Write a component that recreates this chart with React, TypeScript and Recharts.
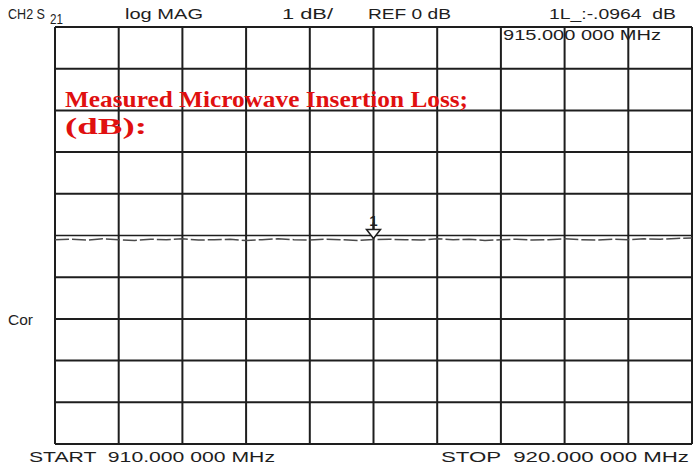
import React from 'react';
import { LineChart, Line, XAxis, YAxis, ReferenceLine, ReferenceDot } from 'recharts';

const freqTicks = [910, 911, 912, 913, 914, 915, 916, 917, 918, 919, 920];
const dbTicks = [-5, -4, -3, -2, -1, 0, 1, 2, 3, 4, 5];

const traceFreqs = [
  910, 910.25, 910.5, 910.75, 911, 911.25, 911.5, 911.75, 912, 912.25,
  912.5, 912.75, 913, 913.25, 913.5, 913.75, 914, 914.25, 914.5, 914.75,
  915, 915.25, 915.5, 915.75, 916, 916.25, 916.5, 916.75, 917, 917.25,
  917.5, 917.75, 918, 918.25, 918.5, 918.75, 919, 919.25, 919.5, 919.75, 920,
];
const traceDb = [
  -0.10, -0.09, -0.11, -0.08, -0.10, -0.12, -0.09, -0.10, -0.08, -0.11,
  -0.10, -0.09, -0.12, -0.10, -0.08, -0.10, -0.11, -0.09, -0.10, -0.12,
  -0.0964, -0.09, -0.10, -0.11, -0.08, -0.10, -0.09, -0.12, -0.10, -0.09,
  -0.11, -0.10, -0.08, -0.10, -0.11, -0.09, -0.10, -0.08, -0.09, -0.07, -0.06,
];

const markerFreq = 915;
const markerDb = -0.0964;

const headerTexts = ['log MAG', '1 dB/', 'REF 0 dB', '1L_:-.0964  dB'];
const markerFreqLabel = '915.000 000 MHz';
const titleLines = ['Measured Microwave Insertion Loss;', '(dB):'];
const startLabel = 'START  910.000 000 MHz';
const stopLabel = 'STOP  920.000 000 MHz';

const data = traceFreqs.map((f, i) => ({ f, db: traceDb[i] }));

const ink = '#1e1e1e';

const MarkerShape = (props: any) => {
  const { cx, cy } = props;
  if (cx == null || cy == null) return null;
  return (
    <g>
      <text x={cx} y={cy - 14} textAnchor="middle" fontSize={15} fontWeight="bold" fill={ink}
        fontFamily='"Liberation Sans", Arial, sans-serif'>1</text>
      <line x1={cx} y1={cy - 17} x2={cx} y2={cy - 9} stroke={ink} strokeWidth={2} />
      <path d={`M${cx - 7},${cy - 10} L${cx + 7},${cy - 10} L${cx},${cy - 1} Z`} fill="#fff" stroke={ink} strokeWidth={1.5} />
    </g>
  );
};

export default function App() {
  const sans = '"Liberation Sans", Arial, sans-serif';
  return (
    <div style={{ position: 'absolute', left: 0, top: 0, width: 696, height: 465, background: '#fff' }}>
      <LineChart width={696} height={465} data={data} margin={{ top: 27, right: 4, bottom: 21, left: 55 }}>
        <XAxis dataKey="f" type="number" domain={[910, 920]} ticks={freqTicks} hide />
        <YAxis type="number" domain={[-5, 5]} ticks={dbTicks} hide />
        {freqTicks.map((t) => (
          <ReferenceLine key={'x' + t} x={t} stroke={ink} strokeWidth={2} ifOverflow="visible" />
        ))}
        {dbTicks.map((t) => (
          <ReferenceLine key={'y' + t} y={t} stroke={ink} strokeWidth={t === 0 ? 1.5 : 2} ifOverflow="visible" />
        ))}
        <Line dataKey="db" type="linear" stroke="#4a4a4a" strokeWidth={1.5} strokeDasharray="14 3" dot={false} isAnimationActive={false} />
        <ReferenceDot x={markerFreq} y={markerDb} shape={MarkerShape} ifOverflow="visible" />
      </LineChart>
      <svg width={696} height={465} style={{ position: 'absolute', left: 0, top: 0, pointerEvents: 'none' }}>
        <g fontFamily={sans} fontSize={14} fill={ink}>
          <text x={8} y={19} style={{ fontSize: 15 }} textLength={37} lengthAdjust="spacingAndGlyphs">CH2 S</text>
          <text x={50} y={24} style={{ fontSize: 15 }} textLength={13} lengthAdjust="spacingAndGlyphs">21</text>
          <text x={125} y={19} textLength={78} lengthAdjust="spacingAndGlyphs">{headerTexts[0]}</text>
          <text x={282} y={19} textLength={51} lengthAdjust="spacingAndGlyphs">{headerTexts[1]}</text>
          <text x={368} y={19} textLength={83} lengthAdjust="spacingAndGlyphs">{headerTexts[2]}</text>
          <text x={549} y={19} textLength={127} lengthAdjust="spacingAndGlyphs" xmlSpace="preserve">{headerTexts[3]}</text>
          <text x={503} y={40} textLength={158} lengthAdjust="spacingAndGlyphs">{markerFreqLabel}</text>
          <text x={8} y={325} textLength={25} lengthAdjust="spacingAndGlyphs">Cor</text>
          <text x={29} y={462} textLength={246} lengthAdjust="spacingAndGlyphs" xmlSpace="preserve">{startLabel}</text>
          <text x={441} y={462} textLength={248} lengthAdjust="spacingAndGlyphs" xmlSpace="preserve">{stopLabel}</text>
        </g>
        <g fontFamily='"Liberation Serif", "Times New Roman", serif' fontWeight="bold" fontSize={24} fill="#e01010">
          <text x={65} y={107} textLength={403} lengthAdjust="spacingAndGlyphs">{titleLines[0]}</text>
          <text x={65} y={134} textLength={82} lengthAdjust="spacingAndGlyphs">{titleLines[1]}</text>
        </g>
      </svg>
    </div>
  );
}
